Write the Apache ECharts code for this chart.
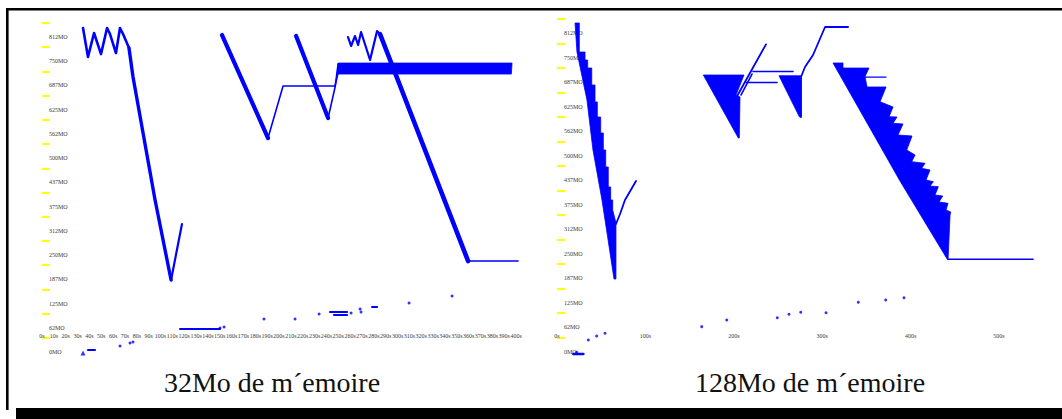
<!DOCTYPE html>
<html>
<head>
<meta charset="utf-8">
<script src="https://cdn.jsdelivr.net/npm/echarts@6/dist/echarts.min.js"></script>
<style>
  html, body { margin: 0; padding: 0; background: #fff; }
  #chart { width: 1062px; height: 419px; }
</style>
</head>
<body>
<div id="chart"></div>
<script>
// ---------- axis ticks and captions ----------
const panelTitles = ['32Mo de m\u00b4emoire', '128Mo de m\u00b4emoire'];
const timeTicks32 = [0, 10, 20, 30, 40, 50, 60, 70, 80, 90, 100, 110, 120, 130, 140, 150, 160, 170, 180, 190,
  200, 210, 220, 230, 240, 250, 260, 270, 280, 290, 300, 310, 320, 330, 340, 350, 360, 370, 380, 390, 400];
const timeTicks128 = [0, 100, 200, 300, 400, 500];
const memTicks = [0, 62.5, 125, 187.5, 250, 312.5, 375, 437.5, 500, 562.5, 625, 687.5, 750, 812.5];
const memTickNames = ['0MO', '62MO', '125MO', '187MO', '250MO', '312MO', '375MO', '437MO', '500MO',
  '562MO', '625MO', '687MO', '750MO', '812MO'];

// ---------- 32Mo run: [time (s), memory (MO)] ----------
const zigzag32 = [[34.6, 835.6], [38.8, 760.8], [43.9, 822.7], [49.8, 768.5], [54.9, 835.6], [57.4, 820.1],
  [62.4, 771.1], [65.8, 835.6], [68.4, 820.1], [73.4, 784.0]];
const fall32a = [[73.4, 784.0], [76.8, 709.2], [95.4, 392.0], [108.9, 185.7]];
const rise32a = [[108.9, 185.7], [118.1, 330.1]];
const fall32b = [[151.9, 817.5], [190.7, 551.9]];
const rise32b = [[190.7, 551.9], [203.4, 686.0], [247.3, 686.0], [251.5, 742.8]];
const fall32c = [[214.4, 815.0], [241.4, 603.5]];
const rise32c = [[241.4, 603.5], [247.3, 683.4], [249.8, 742.8]];
const band32 = [[249.8, 745.3], [396.6, 745.3], [396.0, 716.9], [249.0, 716.9]];
const zigzag32b = [[258.2, 812.4], [260.8, 789.2], [264.1, 815.0], [266.7, 791.8], [269.2, 825.3],
  [276.8, 753.1], [282.7, 827.9], [285.2, 820.1]];
const fall32d = [[285.2, 820.1], [359.5, 234.7]];
const tail32 = [[359.5, 234.7], [401.7, 234.7]];
const lowSegs32 = [
  [[38.8, 5.2], [44.7, 5.2]],
  [[116.5, 59.3], [150.2, 59.3]],
  [[243.0, 103.2], [257.4, 103.2]],
  [[246.4, 95.4], [257.4, 95.4]],
  [[278.5, 116.1], [282.7, 116.1]]
];
const lowDots32 = [[65.8, 15.5], [74.3, 23.2], [76.8, 25.8], [150.2, 61.9], [153.6, 64.5], [187.3, 85.1],
  [213.5, 85.1], [233.8, 98.0], [260.8, 100.6], [268.4, 110.9], [269.2, 103.2], [309.7, 126.4], [346.0, 144.4]];
const startMark32 = [[34.6, -2.6]];

// ---------- 128Mo run: [time (s), memory (MO)] ----------
const fan128a = [[20.4, 838.0], [25.2, 838.0], [25.2, 764.1], [31.7, 764.1], [31.7, 743.7], [34.7, 743.7],
  [34.7, 723.3], [39.3, 723.3], [39.3, 680.0], [43.0, 680.0], [43.0, 636.8], [45.6, 636.8], [45.6, 598.5],
  [49.4, 598.5], [49.4, 557.8], [52.4, 557.8], [52.4, 514.5], [55.1, 514.5], [55.1, 471.2], [58.0, 471.2],
  [58.0, 420.3], [60.7, 420.3], [60.7, 387.1], [63.0, 387.1], [63.0, 361.7], [66.7, 328.6], [66.7, 185.9],
  [64.5, 185.9], [56.6, 303.1], [50.9, 387.1], [40.7, 514.5], [33.9, 641.8], [22.6, 764.1]];
const rise128a = [[66.7, 326.0], [71.3, 351.5], [76.9, 387.1], [89.4, 435.5]];
const wedge128a = [[165.5, 705.5], [211.5, 705.5], [202.5, 654.6], [207.0, 649.5], [206.2, 545.1], [205.1, 545.1]];
const climb128a = [[203.3, 650.3], [236.4, 783.7]];
const climb128b = [[208.1, 654.6], [220.6, 708.1]];
const flat128a = [[221.7, 714.4], [267.0, 714.4]];
const flat128b = [[213.8, 686.4], [248.9, 686.4]];
const wedge128b = [[251.1, 703.7], [276.0, 703.7], [276.0, 598.5], [274.3, 598.5]];
const climb128c = [[276.0, 598.5], [276.0, 700.4], [280.5, 725.9], [289.6, 756.5], [303.2, 827.8], [329.2, 827.8]];
const fan128b = [[312.2, 736.1], [323.5, 736.1], [323.5, 723.3], [352.9, 723.3], [348.4, 701.7], [350.7, 675.0],
  [372.2, 675.0], [365.4, 637.5], [380.1, 624.0], [375.6, 599.3], [384.6, 598.5], [380.1, 582.5], [391.4, 580.7],
  [385.7, 552.7], [401.6, 550.2], [395.6, 514.5], [405.0, 501.8], [401.2, 484.7], [416.3, 480.6], [412.5, 467.9],
  [421.9, 463.6], [417.4, 438.1], [425.7, 433.8], [421.9, 422.8], [431.3, 421.0], [427.6, 399.9], [436.3, 397.3],
  [432.1, 382.1], [442.3, 378.7], [440.0, 361.7], [445.4, 356.6], [444.6, 348.9], [442.3, 234.3], [442.0, 234.3],
  [388.0, 435.5]];
const flat128c = [[348.4, 700.4], [372.2, 700.4]];
const tail128 = [[442.3, 236.1], [538.5, 236.1]];
const lowSegs128 = [[[18.5, -5.1], [29.8, -5.1]]];
const lowDots128 = [[22.3, -1.0], [35.4, 30.6], [44.9, 40.8], [54.3, 47.6], [163.7, 64.5], [192.0, 81.5],
  [249.2, 87.4], [262.4, 96.0], [275.7, 101.1], [304.3, 100.1], [340.8, 126.6], [371.8, 132.4], [392.5, 138.3]];

// ---------- drawing helpers ----------
const BLUE = '#0000ff';
const LABEL_FONT = 'Liberation Serif';

function trace(g, pts, width) {
  return {
    type: 'line', xAxisIndex: g, yAxisIndex: g, data: pts, symbol: 'none', silent: true,
    lineStyle: { color: BLUE, width: width, join: 'round', cap: 'round' }, z: 3
  };
}
function area(g, pts) {
  return {
    type: 'custom', xAxisIndex: g, yAxisIndex: g, data: pts, silent: true, clip: true, z: 2,
    encode: { x: 0, y: 1 },
    renderItem: function (params, api) {
      if (params.dataIndex !== 0) return null;
      return {
        type: 'polygon',
        shape: { points: pts.map(function (p) { return api.coord(p); }) },
        style: { fill: BLUE, stroke: BLUE, lineWidth: 0.8 }
      };
    }
  };
}
function marks(g, pts, size, symbol) {
  return {
    type: 'scatter', xAxisIndex: g, yAxisIndex: g, data: pts, silent: true,
    symbol: symbol || 'circle', symbolSize: size, itemStyle: { color: BLUE }, z: 3
  };
}

// the yellow tick strokes sit a little above each memory label
const TICK_SHIFT = 36.3;
const yellowTicks = memTicks.map(function (v) { return v + TICK_SHIFT; });

function memAxis(g, min, max) {
  return {
    type: 'value', gridIndex: g, min: min, max: max,
    axisLine: { show: false }, splitLine: { show: false },
    axisTick: { show: true, inside: true, length: 8, customValues: yellowTicks,
      lineStyle: { color: '#ffff00', width: 2 } },
    axisLabel: { inside: true, margin: 7, customValues: memTicks, color: '#3a3a3a',
      fontFamily: LABEL_FONT, fontSize: 6,
      formatter: function (v) {
        const i = memTicks.findIndex(function (m) { return Math.abs(m - v) < 0.01; });
        return i >= 0 ? memTickNames[i] : '';
      } }
  };
}
function timeAxis(g, max, ticks) {
  return {
    type: 'value', gridIndex: g, min: 0, max: max,
    axisLine: { show: false }, splitLine: { show: false }, axisTick: { show: false },
    axisLabel: { inside: true, margin: 23, customValues: ticks, color: '#3a3a3a',
      fontFamily: LABEL_FONT, fontSize: 6, formatter: function (v) { return v + 's'; } }
  };
}

const series = [
  trace(0, zigzag32, 2.6), trace(0, fall32a, 3.4), trace(0, rise32a, 2.2),
  trace(0, fall32b, 4.2), trace(0, rise32b, 1.6), trace(0, fall32c, 4.2), trace(0, rise32c, 1.6),
  area(0, band32), trace(0, zigzag32b, 2.2), trace(0, fall32d, 4.6), trace(0, tail32, 1.6),
  marks(0, lowDots32, 3), marks(0, startMark32, 5, 'triangle'),
  area(1, fan128a), trace(1, rise128a, 1.8), area(1, wedge128a),
  trace(1, climb128a, 1.8), trace(1, climb128b, 1.6), trace(1, flat128a, 1.6), trace(1, flat128b, 1.6),
  area(1, wedge128b), trace(1, climb128c, 1.8), area(1, fan128b), trace(1, flat128c, 1.2),
  trace(1, tail128, 1.6), marks(1, lowDots128, 3)
];
lowSegs32.forEach(function (s) { series.push(trace(0, s, 2.2)); });
lowSegs128.forEach(function (s) { series.push(trace(1, s, 2.6)); });

const chart = echarts.init(document.getElementById('chart'), null, { renderer: 'svg' });
chart.setOption({
  animation: false,
  backgroundColor: '#ffffff',
  grid: [
    { left: 42, top: 15, width: 480, height: 347 },
    { left: 557, top: 15, width: 477.4, height: 347 }
  ],
  xAxis: [timeAxis(0, 405, timeTicks32), timeAxis(1, 540, timeTicks128)],
  yAxis: [memAxis(0, -25.8, 869.2), memAxis(1, -25.5, 858.4)],
  series: series,
  graphic: [
    { type: 'rect', shape: { x: 6, y: 8, width: 2.6, height: 402 }, style: { fill: '#000' } },
    { type: 'rect', shape: { x: 6, y: 8, width: 1056, height: 2.4 }, style: { fill: '#000' } },
    { type: 'rect', shape: { x: 16, y: 408, width: 1046, height: 11 }, style: { fill: '#000' } },
    { type: 'text', x: 272, y: 382, style: { text: panelTitles[0], font: '28px "Liberation Serif"',
      fill: '#111', align: 'center', verticalAlign: 'middle' } },
    { type: 'text', x: 810, y: 382, style: { text: panelTitles[1], font: '28px "Liberation Serif"',
      fill: '#111', align: 'center', verticalAlign: 'middle' } }
  ]
});
</script>
</body>
</html>
